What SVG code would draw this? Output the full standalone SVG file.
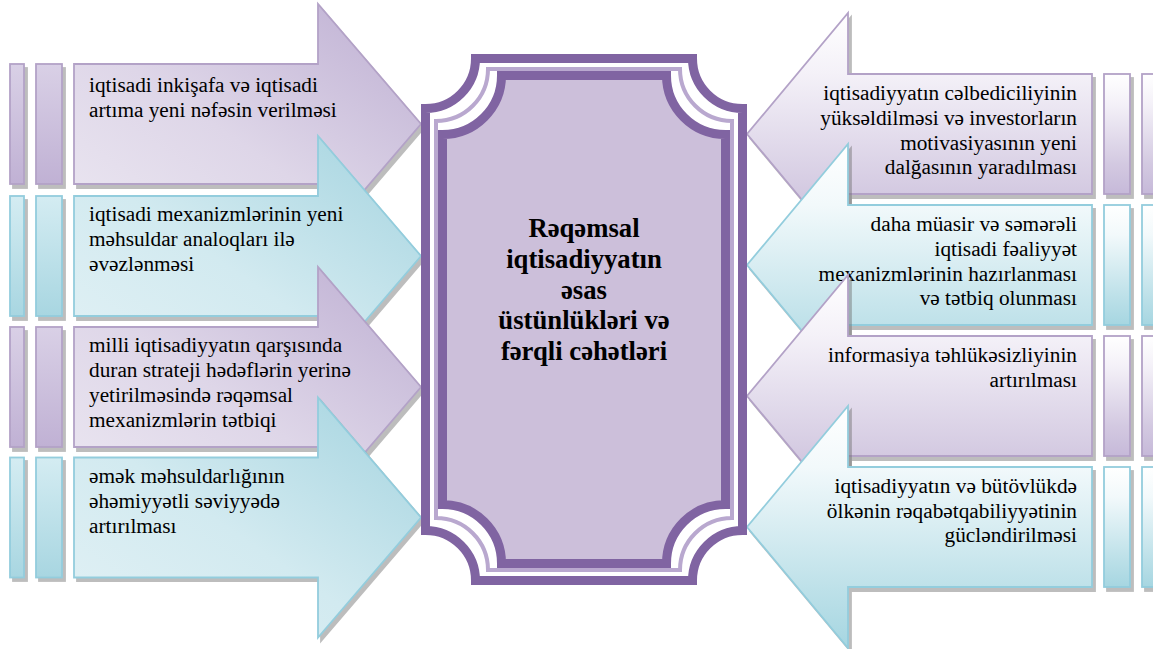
<svg xmlns="http://www.w3.org/2000/svg" xmlns:xlink="http://www.w3.org/1999/xlink" width="1153" height="649" viewBox="0 0 1153 649">
  <defs>
    <!-- fills for the left-hand arrows (diagonal shading) -->
    <linearGradient id="gLP" x1="0" y1="1" x2="1" y2="0">
      <stop offset="0" stop-color="#ECE8F2"/>
      <stop offset="0.45" stop-color="#DED6E8"/>
      <stop offset="1" stop-color="#BDAED2"/>
    </linearGradient>
    <linearGradient id="gLC" x1="0" y1="1" x2="1" y2="0">
      <stop offset="0" stop-color="#E2F1F5"/>
      <stop offset="0.45" stop-color="#D2EAF0"/>
      <stop offset="1" stop-color="#A3D3DF"/>
    </linearGradient>
    <!-- fills for the right-hand arrows (vertical shading) -->
    <linearGradient id="gRP" x1="0" y1="0" x2="0" y2="1">
      <stop offset="0" stop-color="#FFFFFF"/>
      <stop offset="0.25" stop-color="#F4F1F8"/>
      <stop offset="0.75" stop-color="#D3C9E1"/>
      <stop offset="1" stop-color="#C6B9D9"/>
    </linearGradient>
    <linearGradient id="gRC" x1="0" y1="0" x2="0" y2="1">
      <stop offset="0" stop-color="#FFFFFF"/>
      <stop offset="0.25" stop-color="#F2F9FB"/>
      <stop offset="0.75" stop-color="#BEE1E9"/>
      <stop offset="1" stop-color="#A6D6E1"/>
    </linearGradient>
    <!-- side strips -->
    <linearGradient id="gSP" x1="0" y1="0" x2="0" y2="1">
      <stop offset="0" stop-color="#D9D0E6"/>
      <stop offset="1" stop-color="#C0B1D4"/>
    </linearGradient>
    <linearGradient id="gSC" x1="0" y1="0" x2="0" y2="1">
      <stop offset="0" stop-color="#D4ECF2"/>
      <stop offset="1" stop-color="#A8D6E1"/>
    </linearGradient>

    <!-- arrow outlines, centred on y = 0 -->
    <polygon id="arrowR" points="74,-60 318,-60 318,-120 421,0 318,120 318,60 74,60"/>
    <polygon id="arrowL" points="1092,-60 848,-60 848,-121 747,0 848,121 848,60 1092,60"/>
    <g id="stripsL">
      <rect x="10" y="-60" width="14" height="120"/>
      <rect x="36" y="-60" width="26" height="120"/>
    </g>
    <g id="stripsR">
      <rect x="1104" y="-60" width="26" height="120"/>
      <rect x="1142" y="-60" width="14" height="120"/>
    </g>
  </defs>

  <style>
    .sh { fill: #6E6E6E; stroke: #6E6E6E; stroke-width: 1.8; opacity: 0.45; }
    .p { stroke: #B3A2C7; stroke-width: 1.8; }
    .c { stroke: #93CDDD; stroke-width: 1.8; }
    .lp { fill: url(#gLP); }
    .lc { fill: url(#gLC); }
    .rp { fill: url(#gRP); }
    .rc { fill: url(#gRC); }
    .sp { fill: url(#gSP); }
    .sc { fill: url(#gSC); }
    .t { font-family: "Liberation Serif", "Times New Roman", serif; font-size: 21.3px; fill: #000; }
    .tr { text-anchor: end; }
    .title { font-family: "Liberation Serif", "Times New Roman", serif; font-size: 26.7px; font-weight: bold; fill: #000; text-anchor: middle; }
  </style>

  <!-- left column: arrows pointing at the centre -->
  <g id="left-1">
    <use xlink:href="#stripsL" class="sh" transform="translate(3,128)"/>
    <use xlink:href="#arrowR" class="sh" transform="translate(3,128)"/>
    <use xlink:href="#stripsL" class="sp p" y="124"/>
    <use xlink:href="#arrowR" class="lp p" y="124"/>
    <text class="t" x="89" y="92">iqtisadi inkişafa və iqtisadi</text>
    <text class="t" x="89" y="117">artıma yeni nəfəsin verilməsi</text>
  </g>
  <g id="left-2">
    <use xlink:href="#stripsL" class="sh" transform="translate(3,260)"/>
    <use xlink:href="#arrowR" class="sh" transform="translate(3,260)"/>
    <use xlink:href="#stripsL" class="sc c" y="256"/>
    <use xlink:href="#arrowR" class="lc c" y="256"/>
    <text class="t" x="89" y="220.5">iqtisadi mexanizmlərinin yeni</text>
    <text class="t" x="89" y="245.5">məhsuldar analoqları ilə</text>
    <text class="t" x="89" y="270.5">əvəzlənməsi</text>
  </g>
  <g id="left-3">
    <use xlink:href="#stripsL" class="sh" transform="translate(3,391)"/>
    <use xlink:href="#arrowR" class="sh" transform="translate(3,391)"/>
    <use xlink:href="#stripsL" class="sp p" y="387"/>
    <use xlink:href="#arrowR" class="lp p" y="387"/>
    <text class="t" x="89" y="351.5">milli iqtisadiyyatın qarşısında</text>
    <text class="t" x="89" y="376.5">duran strateji hədəflərin yerinə</text>
    <text class="t" x="89" y="401.5">yetirilməsində rəqəmsal</text>
    <text class="t" x="89" y="426.5">mexanizmlərin tətbiqi</text>
  </g>
  <g id="left-4">
    <use xlink:href="#stripsL" class="sh" transform="translate(3,521)"/>
    <use xlink:href="#arrowR" class="sh" transform="translate(3,521)"/>
    <use xlink:href="#stripsL" class="sc c" y="517.5"/>
    <use xlink:href="#arrowR" class="lc c" y="517.5"/>
    <text class="t" x="89" y="483">əmək məhsuldarlığının</text>
    <text class="t" x="89" y="508">əhəmiyyətli səviyyədə</text>
    <text class="t" x="89" y="533">artırılması</text>
  </g>

  <!-- right column: arrows pointing at the centre -->
  <g id="right-1">
    <use xlink:href="#stripsR" class="sh" transform="translate(3,138)"/>
    <use xlink:href="#arrowL" class="sh" transform="translate(3,138)"/>
    <use xlink:href="#stripsR" class="rp p" y="134"/>
    <use xlink:href="#arrowL" class="rp p" y="134"/>
    <text class="t tr" x="1077" y="99.5">iqtisadiyyatın cəlbediciliyinin</text>
    <text class="t tr" x="1077" y="124.5">yüksəldilməsi və investorların</text>
    <text class="t tr" x="1077" y="149.5">motivasiyasının yeni</text>
    <text class="t tr" x="1077" y="174">dalğasının yaradılması</text>
  </g>
  <g id="right-2">
    <use xlink:href="#stripsR" class="sh" transform="translate(3,269)"/>
    <use xlink:href="#arrowL" class="sh" transform="translate(3,269)"/>
    <use xlink:href="#stripsR" class="rc c" y="265"/>
    <use xlink:href="#arrowL" class="rc c" y="265"/>
    <text class="t tr" x="1077" y="230.5">daha müasir və səmərəli</text>
    <text class="t tr" x="1077" y="255.5">iqtisadi fəaliyyət</text>
    <text class="t tr" x="1077" y="280.5">mexanizmlərinin hazırlanması</text>
    <text class="t tr" x="1077" y="305">və tətbiq olunması</text>
  </g>
  <g id="right-3">
    <use xlink:href="#stripsR" class="sh" transform="translate(3,400)"/>
    <use xlink:href="#arrowL" class="sh" transform="translate(3,400)"/>
    <use xlink:href="#stripsR" class="rp p" y="396"/>
    <use xlink:href="#arrowL" class="rp p" y="396"/>
    <text class="t tr" x="1077" y="361.5">informasiya təhlükəsizliyinin</text>
    <text class="t tr" x="1077" y="386.5">artırılması</text>
  </g>
  <g id="right-4">
    <use xlink:href="#stripsR" class="sh" transform="translate(3,531)"/>
    <use xlink:href="#arrowL" class="sh" transform="translate(3,531)"/>
    <use xlink:href="#stripsR" class="rc c" y="527"/>
    <use xlink:href="#arrowL" class="rc c" y="527"/>
    <text class="t tr" x="1077" y="493">iqtisadiyyatın və bütövlükdə</text>
    <text class="t tr" x="1077" y="517.5">ölkənin rəqabətqabiliyyətinin</text>
    <text class="t tr" x="1077" y="542">gücləndirilməsi</text>
  </g>

  <!-- central plaque with layered border -->
  <g id="center">
    <path fill="#FFFFFF" stroke="#8064A2" stroke-width="9" stroke-linejoin="miter"
          d="M475.5,58.5 H692.5 A50,50 0 0 0 742.5,108.5 V530.5 A50,50 0 0 0 692.5,580.5 H475.5 A50,50 0 0 0 425.5,530.5 V108.5 A50,50 0 0 0 475.5,58.5 Z"/>
    <path fill="none" stroke="#B9A8CF" stroke-width="4"
          d="M488,69 H680 A52,52 0 0 0 732,121 V518 A52,52 0 0 0 680,570 H488 A52,52 0 0 0 436,518 V121 A52,52 0 0 0 488,69 Z"/>
    <path fill="#CCBFDA" stroke="#8064A2" stroke-width="9" stroke-linejoin="miter"
          d="M501.5,75.5 H666.5 A59,59 0 0 0 725.5,134.5 V504.5 A59,59 0 0 0 666.5,563.5 H501.5 A59,59 0 0 0 442.5,504.5 V134.5 A59,59 0 0 0 501.5,75.5 Z"/>
    <text class="title" x="584" y="237">Rəqəmsal</text>
    <text class="title" x="584" y="268">iqtisadiyyatın</text>
    <text class="title" x="584" y="298.5">əsas</text>
    <text class="title" x="584" y="329">üstünlükləri və</text>
    <text class="title" x="584" y="359.5">fərqli cəhətləri</text>
  </g>
</svg>
